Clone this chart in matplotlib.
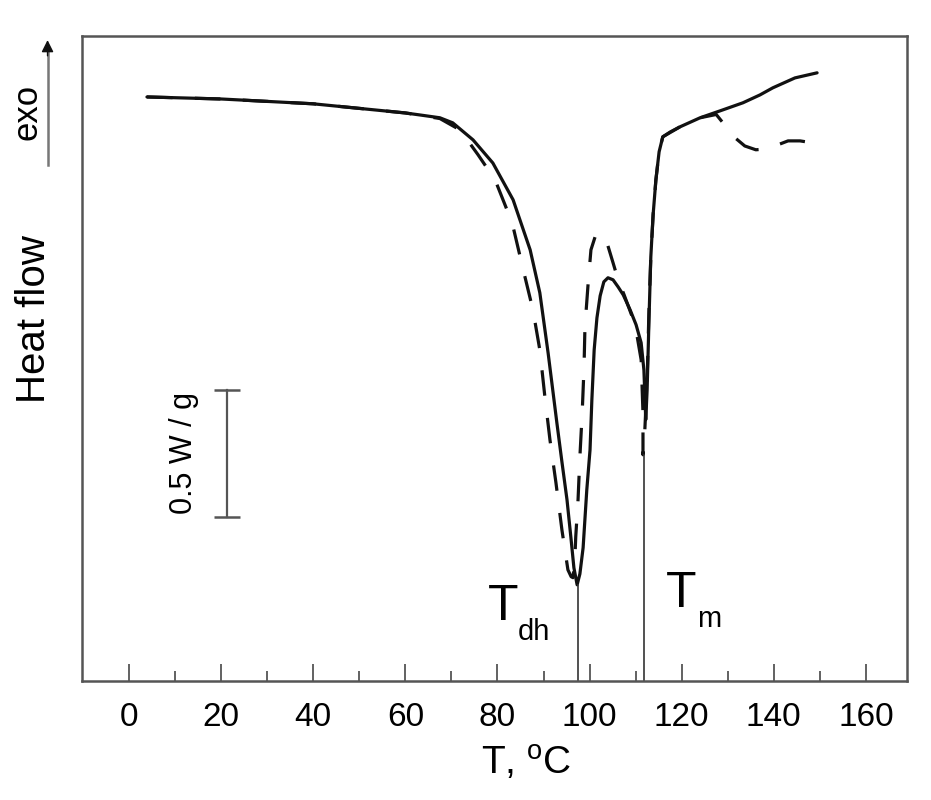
import numpy as np
import matplotlib
matplotlib.use('Agg')
from matplotlib import pyplot as plt

plt.rcParams['font.family'] = ['Liberation Sans', 'DejaVu Sans']
plt.rcParams['mathtext.fontset'] = 'custom'
plt.rcParams['mathtext.rm'] = 'Liberation Sans'

# DSC traces: temperature (C) and heat flow (W/g, arbitrary offset)
solid_T = [3.9, 20, 40, 60, 63.2, 67.5, 70.3, 74.7, 79.0, 83.4, 87.1, 89.2, 91.0,
           92.9, 94.0, 95.1, 96.0, 96.6, 97.3, 97.9, 98.6, 99.4, 100.1, 100.5, 101.0,
           101.6, 102.3, 103.1, 104.0, 105.1, 106.2, 107.3, 108.8, 110.1, 111.2, 111.8,
           112.0, 112.2, 112.5, 112.9, 113.3, 113.8, 114.4, 115.1, 115.9, 117.5, 119.6,
           124.0, 128.3, 133.3, 137.0, 139.8, 144.6, 149.4]
solid_HF = [2.299, 2.291, 2.272, 2.236, 2.228, 2.217, 2.197, 2.130, 2.039, 1.894, 1.697, 1.528, 1.291,
            1.016, 0.862, 0.713, 0.555, 0.445, 0.378, 0.421, 0.524, 0.752, 0.909, 1.106, 1.303,
            1.429, 1.516, 1.571, 1.587, 1.579, 1.551, 1.520, 1.461, 1.402, 1.331, 1.224,
            1.126, 1.028, 1.146, 1.421, 1.669, 1.835, 1.972, 2.083, 2.142, 2.161, 2.181,
            2.217, 2.244, 2.276, 2.307, 2.335, 2.374, 2.394]

dashed_T = [3.9, 20, 40, 60, 67.5, 71.9, 75.8, 79.5, 83.2, 85.5, 87.7, 89.2, 90.3, 91.4,
            92.7, 94.0, 95.3, 96.0, 96.4, 96.8, 97.0, 97.5, 97.9, 98.4, 98.8, 99.0, 99.7,
            100.3, 101.2, 102.3, 103.6, 105.1, 106.2, 107.5, 109.9, 111.2, 111.6, 111.6,
            112.0, 112.5, 112.9, 113.3, 113.8, 114.4, 115.1, 115.9, 119.6, 124.0, 127.5,
            129.5, 131.6, 133.7, 136.1, 138.5, 143.1, 145.7, 148.5, 149.6]
dashed_HF = [2.299, 2.291, 2.272, 2.236, 2.214, 2.169, 2.071, 1.972, 1.803, 1.626, 1.461, 1.303, 1.118, 0.949,
             0.780, 0.594, 0.437, 0.410, 0.406, 0.476, 0.567, 0.713, 0.882, 1.055, 1.236, 1.394, 1.567,
             1.697, 1.748, 1.764, 1.736, 1.646, 1.579, 1.520, 1.402, 1.264, 1.055, 0.890,
             0.988, 1.185, 1.461, 1.669, 1.835, 1.972, 2.083, 2.142, 2.181, 2.217, 2.230,
             2.185, 2.138, 2.106, 2.091, 2.094, 2.126, 2.126, 2.118, 2.118]

T_dh = 97.5
T_dh_HF = 0.378
T_m = 111.8
T_m_HF = 0.890

scale_T = 21.3
scale_lo = 0.646
scale_size = 0.5

grey = '#555555'

fig = plt.figure(figsize=(9.31, 8), dpi=100)
ax = fig.add_axes([0.0881, 0.149, 0.886, 0.806])

ax.plot(solid_T, solid_HF, color='#111111', lw=2.3, solid_capstyle='round')
ax.plot(dashed_T, dashed_HF, color='#111111', lw=2.3, linestyle=(0, (8, 7)))

# marker lines for the two transitions
ax.plot([T_dh, T_dh], [0, T_dh_HF], color='#333333', lw=1.2)
ax.plot([T_m, T_m], [0, T_m_HF], color='#333333', lw=1.2)

ax.text(77.9, 0.240, 'T', fontsize=36, ha='left', va='baseline')
ax.text(84.5, 0.161, 'dh', fontsize=21, ha='left', va='baseline')
ax.text(116.6, 0.291, 'T', fontsize=36, ha='left', va='baseline')
ax.text(123.3, 0.213, 'm', fontsize=21, ha='left', va='baseline')

# 0.5 W/g scale bar
ax.plot([scale_T, scale_T], [scale_lo, scale_lo + scale_size], color=grey, lw=1.6,
        marker='_', markersize=19, markeredgewidth=1.8)
ax.text(11.9, scale_lo + scale_size * 0.5, '0.5 W / g', fontsize=22, rotation=90,
        ha='center', va='center')

ax.set_xlim(-10.2, 168.9)
ax.set_ylim(0, 2.539)
ax.set_xticks(np.arange(0, 161, 20))
ax.set_xticks(np.arange(10, 161, 20), minor=True)
ax.set_yticks([])
ax.tick_params(axis='x', which='major', direction='in', length=12, width=1.3,
               color=grey, labelsize=24, pad=15)
ax.tick_params(axis='x', which='minor', direction='in', length=7, width=1.3, color=grey)
for s in ax.spines.values():
    s.set_color(grey)
    s.set_linewidth(1.8)

ax.set_xlabel('T, $\\mathregular{^{o}}$C', fontsize=28)
ax.xaxis.set_label_coords(0.538, -0.098)
ax.set_ylabel('Heat flow', fontsize=29)
ax.yaxis.set_label_coords(-0.0352, 0.561)

ax.text(-0.0667, 0.882, 'exo', fontsize=25, rotation=90, ha='center', va='center',
        transform=ax.transAxes)
ax.plot([-0.0418, -0.0418], [0.80, 0.975], color='#777777', lw=1.8,
        transform=ax.transAxes, clip_on=False)
ax.annotate('', xy=(-0.0418, 0.998), xytext=(-0.0418, 0.965), xycoords='axes fraction',
            arrowprops=dict(arrowstyle='-|>', color='#111111', lw=1.0, mutation_scale=18))

fig.savefig('out.png', dpi=100)
